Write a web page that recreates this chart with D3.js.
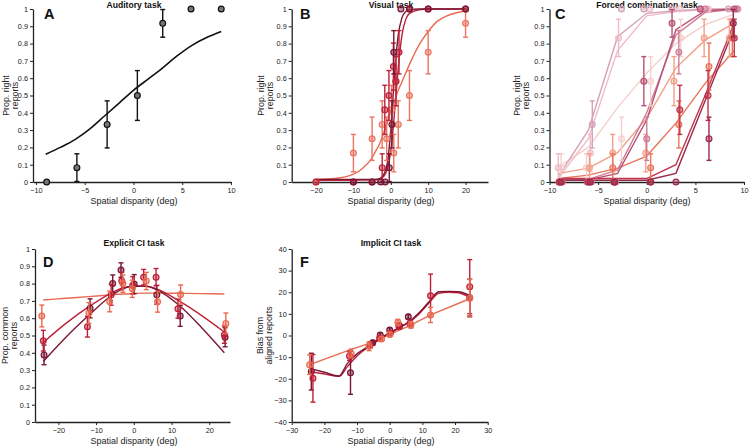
<!DOCTYPE html>
<html><head><meta charset="utf-8">
<script src="https://cdn.jsdelivr.net/npm/d3@7"></script>
<style>body{margin:0;background:#fff}</style>
</head><body><svg id="c" width="749" height="447" style="background:#fff"></svg>
<script>
// ---------- Panel A: Auditory task ----------
const aX = [-8.9, -5.8, -2.7, 0.4, 3.0, 5.9, 9.0];
const aY = [0, 0.083, 0.333, 0.5, 0.917, 1, 1];
const aErr = [0, 0.08, 0.136, 0.144, 0.08, 0, 0];
const aFitX = [-9, -7.5, -6, -4.5, -3, -1.5, 0, 1.5, 3, 4.5, 6, 7.5, 9];
const aFitY = [0.16, 0.2, 0.245, 0.305, 0.38, 0.455, 0.53, 0.595, 0.66, 0.73, 0.79, 0.835, 0.87];

// ---------- Panel B: Visual task ----------
const bFitX = [-20,-15,-10,-7.5,-5,-4,-3,-2,-1,0,1,2,3,4,5,7.5,10,12.5,15,20];
const bFitDark = [0.015,0.015,0.015,0.015,0.015,0.016,0.02,0.04,0.1,0.3,0.62,0.85,0.95,0.985,0.995,1,1,1,1,1];
const bFitCrim = [0.01,0.01,0.01,0.011,0.012,0.013,0.016,0.03,0.07,0.18,0.4,0.66,0.85,0.94,0.975,0.995,1,1,1,1];
const bFitOr = [0.015,0.02,0.045,0.08,0.14,0.18,0.22,0.28,0.34,0.41,0.47,0.53,0.58,0.63,0.68,0.79,0.87,0.93,0.96,0.99];
const bDarkX = [-10,-5,-2.7,-1.5,-0.4,0.3,0.8,2.7,5,10,20];
const bDarkY = [0,0,0,0,0.083,0.333,0.75,1,1,1,1];
const bDarkE = [0,0,0,0,0.08,0.136,0.125,0,0,0,0];
const bCrimX = [-20,-10,-5,-2.3,-1.6,-0.5,0.7,1.4,2.2,5,10,20];
const bCrimY = [0,0,0,0.083,0.417,0.5,0.667,0.583,0.75,1,1,1];
const bCrimE = [0,0,0,0.08,0.142,0.144,0.136,0.142,0.125,0,0,0];
const bOrX = [-20,-10,-5,-2.3,-1.1,0.2,0.8,1.3,2,5,10,20];
const bOrY = [0,0.167,0.25,0.333,0.25,0.417,0.167,0.583,0.333,0.5,0.75,0.917];
const bOrE = [0,0.108,0.125,0.136,0.125,0.142,0.108,0.142,0.136,0.144,0.125,0.08];

// ---------- Panel C: Forced combination task ----------
const cFitX = [-9,-6,-3,0,3,6,9];
const cFitA = [0.04,0.3,0.84,0.975,0.99,1,1];
const cFitB = [0.03,0.25,0.76,0.96,0.985,0.995,1];
const cFitC = [0.09,0.2,0.43,0.63,0.8,0.91,0.97];
const cFitD = [0.05,0.08,0.17,0.37,0.66,0.82,0.92];
const cFitE = [0.02,0.04,0.08,0.15,0.34,0.57,0.76];
const cFitF1 = [0.01,0.012,0.05,0.36,0.88,0.99,1];
const cFitF2 = [0.01,0.015,0.07,0.4,0.85,0.98,1];
const cFitG1 = [0.02,0.02,0.02,0.02,0.1,0.5,0.92];
const cFitG2 = [0.01,0.01,0.01,0.01,0.05,0.47,0.89];
const cXA = [-8.8,-5.6,-2.6,-0.3,2.6,5.5,8.4], cYA = [0,0.333,1,1,1,1,1], cEA = [0,0.136,0,0,0,0,0];
const cXB = [-9.1,-5.8,-2.9,0.3,3.4,6.3,9.2], cYB = [0.083,0.167,0.833,1,1,1,1], cEB = [0.08,0.108,0.108,0,0,0,0];
const cXC = [-8.8,-6.2,-2.6,0.4,3.5,6.3,9.4], cYC = [0.083,0.083,0.25,0.583,0.833,1,1], cEC = [0.08,0.08,0.125,0.142,0.108,0,0];
const cXD = [-9.0,-5.9,-3.5,-0.1,2.8,5.9,8.5], cYD = [0,0.083,0.167,0.167,0.583,0.833,0.833], cED = [0,0.08,0.108,0.108,0.142,0.108,0.108];
const cXE = [-8.7,-6.0,-3.5,0.4,3.3,6.4,8.8], cYE = [0,0,0.083,0.083,0.333,0.667,0.833], cEE = [0,0,0.08,0.08,0.136,0.136,0.108];
const cXF1 = [-9.0,-6.1,-3.4,-0.3,2.6,5.5,9.0], cYF1 = [0,0,0,0.583,0.917,1,1], cEF1 = [0,0,0,0.142,0.08,0,0];
const cXF2 = [-8.9,-5.7,-3.2,0,3.3,6.0,9.3], cYF2 = [0,0,0,0.25,0.75,1,1], cEF2 = [0,0,0,0.125,0.125,0,0];
const cXG1 = [-9.0,-6.0,-3.3,0.4,3.4,6.3,9.0], cYG1 = [0,0,0,0,0.417,0.5,0.833], cEG1 = [0,0,0,0,0.142,0.144,0.108];
const cXG2 = [-8.8,-5.8,-3.3,0.4,3.0,6.4,8.9], cYG2 = [0,0,0,0,0,0.25,0.917], cEG2 = [0,0,0,0,0,0.125,0.08];

// ---------- Panel D: Explicit CI task ----------
const dFitX = [-24,-18,-12,-6,-3,0,3,6,12,18,24];
const dFitDark = [0.35,0.49,0.615,0.73,0.77,0.785,0.787,0.765,0.675,0.545,0.40];
const dFitCrim = [0.46,0.57,0.665,0.745,0.775,0.785,0.785,0.77,0.70,0.615,0.52];
const dFitOr = [0.705,0.715,0.725,0.735,0.74,0.743,0.745,0.745,0.744,0.742,0.74];
const dDarkX = [-23.8,-11.6,-5.6,-3.4,0.1,6.1,12.3,24.2];
const dDarkY = [0.388,0.657,0.8,0.878,0.797,0.735,0.613,0.49];
const dDarkE = [0.057,0.055,0.05,0.042,0.055,0.055,0.06,0.055];
const dCrimX = [-24,-12.3,-6,-3.2,-0.3,2.6,5.9,11.7,24];
const dCrimY = [0.47,0.551,0.735,0.815,0.79,0.837,0.837,0.655,0.505];
const dCrimE = [0.06,0.06,0.06,0.05,0.05,0.045,0.05,0.055,0.05];
const dOrX = [-24.4,-11.9,-6.4,-2.9,-0.4,3.3,6.3,12.4,24.4];
const dOrY = [0.613,0.63,0.697,0.8,0.77,0.815,0.695,0.737,0.57];
const dOrE = [0.063,0.06,0.06,0.05,0.05,0.05,0.06,0.055,0.06];

// ---------- Panel F: Implicit CI task ----------
const fFitX = [-24.5,-20,-15.5,-13,-10,-6,-3,0,3,6,9,12,15,18,21,24.5];
const fFitDark = [-15.2,-17,-18.7,-13,-8.5,-4.6,-1.5,1.3,3.8,6.5,10.5,15.5,20.2,20.4,20.2,18.5];
const fFitCrim = [-16.7,-17.8,-18.9,-14.5,-9.5,-4.8,-1.7,1.0,3.6,6.2,10,15,19.5,20,19.8,17.5];
const fFitOrX = [-24.5,-12,-6,-3,0,3,6,12.5,24.5];
const fFitOr = [-13.5,-6.5,-3.5,-1.5,0.5,2.5,4.5,9.5,17];
const fDarkX = [-24,-12,-5.2,-2.9,0,3,5.7,24.5];
const fDarkY = [-16.7,-17.2,-3.3,0.2,2.5,4.4,8.7,17.5];
const fDarkE = [8.5,10,1,1,1,1,1,8.5];
const fCrimX = [-23.5,-12.3,-6,-3.1,0.2,2.8,6.2,12.5,24.5];
const fCrimY = [-19.8,-9.5,-4.4,-1.3,1,4.4,5.6,18.4,22.6];
const fCrimE = [11,2,1.5,1,1,1.5,1.5,10,12.5];
const fOrX = [-24.5,-11.8,-6.3,-2.5,0,2.5,6.5,12.5,24.5];
const fOrY = [-13.5,-8.3,-5,-1.6,0.5,6,4.9,9.5,17.2];
const fOrE = [4.5,2,2,1,1,1.5,1.5,3.5,8.7];

// ---------- tick labels ----------
const propTicks = [0,0.1,0.2,0.3,0.4,0.5,0.6,0.7,0.8,0.9,1];
const biasTicks = [-40,-30,-20,-10,0,10,20,30,40];
const xTicks10 = [-10,-5,0,5,10];
const xTicks20 = [-20,-10,0,10,20];
const xTicks30 = [-30,-20,-10,0,10,20,30];

// ---------- drawing ----------
const FONT = "'Liberation Sans', Arial, Helvetica, sans-serif";
const svg = d3.select('#c');
const DARK = '#7a1634', CRIM = '#be2038', ORNG = '#e96a50';

function makePanel(o){
  const x = d3.scaleLinear().domain(o.xDomain).range(o.xRange);
  const y = d3.scaleLinear().domain(o.yDomain).range(o.yRange);
  const g = svg.append('g');
  const xa = g.append('g').attr('transform',`translate(0,${o.yRange[0]})`)
    .call(d3.axisBottom(x).tickValues(o.xTicks).tickSize(3).tickSizeOuter(0).tickPadding(3));
  const ya = g.append('g').attr('transform',`translate(${o.xRange[0]},0)`)
    .call(d3.axisLeft(y).tickValues(o.yTicks).tickFormat(d3.format('~g')).tickSize(3).tickSizeOuter(0).tickPadding(2));
  [xa,ya].forEach(a=>{
    a.attr('font-family',FONT).attr('font-size',7.3);
    a.select('.domain').attr('stroke','#222').attr('stroke-width',1.3);
    a.selectAll('.tick line').attr('stroke','#222');
    a.selectAll('.tick text').attr('fill','#222');
  });
  g.append('text').attr('x',o.titleX).attr('y',o.titleY).attr('text-anchor','middle')
    .attr('font-family',FONT).attr('font-size',8.6).attr('font-weight','bold').attr('fill','#111').text(o.title);
  g.append('text').attr('x',o.titleX).attr('y',o.yRange[0]+21.5).attr('text-anchor','middle')
    .attr('font-family',FONT).attr('font-size',9).attr('fill','#222').text('Spatial disparity (deg)');
  const ymid = (o.yRange[0]+o.yRange[1])/2;
  o.yLabel.forEach((t,i)=>{
    g.append('text').attr('transform',`translate(${o.yLabelX[i]},${ymid}) rotate(-90)`)
      .attr('text-anchor','middle').attr('font-family',FONT).attr('font-size',8.8).attr('fill','#222').text(t);
  });
  g.append('text').attr('x',o.letterX).attr('y',o.letterY).attr('font-family',FONT)
    .attr('font-size',14.5).attr('font-weight','bold').attr('fill','#111').text(o.letter);
  return {g,x,y};
}

function drawFit(p, xs, ys, color, curve, w){
  p.g.append('path').datum(xs.map((v,i)=>[v,ys[i]]))
    .attr('fill','none').attr('stroke',color).attr('stroke-width',w||1.4)
    .attr('d', d3.line().x(d=>p.x(d[0])).y(d=>p.y(d[1])).curve(curve||d3.curveMonotoneX));
}
function drawPts(p, xs, ys, es, color, fill, fo){
  const data = xs.map((v,i)=>({x:v,y:ys[i],e:es[i]}));
  const eg = p.g.append('g').attr('stroke',color).attr('stroke-width',1.4).attr('fill','none');
  data.filter(d=>d.e>0).forEach(d=>{
    const X = p.x(d.x), y1 = p.y(d.y-d.e), y2 = p.y(d.y+d.e);
    eg.append('line').attr('x1',X).attr('x2',X).attr('y1',y1).attr('y2',y2);
    eg.append('line').attr('x1',X-2.5).attr('x2',X+2.5).attr('y1',y1).attr('y2',y1);
    eg.append('line').attr('x1',X-2.5).attr('x2',X+2.5).attr('y1',y2).attr('y2',y2);
  });
  p.g.append('g').selectAll('circle').data(data).join('circle')
    .attr('cx',d=>p.x(d.x)).attr('cy',d=>p.y(d.y)).attr('r',2.9)
    .attr('fill',fill||color).attr('fill-opacity',fo==null?0.45:fo)
    .attr('stroke',color).attr('stroke-width',1.2);
}

// Panel A
const pA = makePanel({xDomain:[-10.3,10],xRange:[33,231],yDomain:[0,1],yRange:[182,9],xTicks:xTicks10,yTicks:propTicks,
  title:'Auditory task',titleX:134,titleY:7.5,yLabel:['Prop. right','reports'],yLabelX:[8.5,17.5],letter:'A',letterX:44,letterY:19});
drawFit(pA,aFitX,aFitY,'#111',d3.curveMonotoneX,1.6);
drawPts(pA,aX,aY,aErr,'#111','#777',1);

// Panel B
const pB = makePanel({xDomain:[-26.5,26],xRange:[291.7,488],yDomain:[0,1],yRange:[182,9],xTicks:xTicks20,yTicks:propTicks,
  title:'Visual task',titleX:391,titleY:7.5,yLabel:['Prop. right','reports'],yLabelX:[264,273],letter:'B',letterX:300,letterY:19});
drawFit(pB,bFitX,bFitOr,ORNG);
drawFit(pB,bFitX,bFitCrim,CRIM);
drawFit(pB,bFitX,bFitDark,DARK);
drawPts(pB,bOrX,bOrY,bOrE,'#ea7560');
drawPts(pB,bCrimX,bCrimY,bCrimE,CRIM);
drawPts(pB,bDarkX,bDarkY,bDarkE,DARK);

// Panel C
const pC = makePanel({xDomain:[-10,10],xRange:[549.5,744],yDomain:[0,1],yRange:[182,9],xTicks:xTicks10,yTicks:propTicks,
  title:'Forced combination task',titleX:647,titleY:7.5,yLabel:['Prop. right','reports'],yLabelX:[520,529],letter:'C',letterX:555,letterY:19});
const cCols = {a:'#d6a2b8',b:'#efbcc6',c:'#f5cfcb',d:'#f2a088',e:'#e9755a',f1:'#b85275',f2:'#cf7d96',g1:'#c2334c',g2:'#9a2a4c'};
drawFit(pC,cFitX,cFitC,cCols.c,d3.curveLinear);
drawFit(pC,cFitX,cFitB,cCols.b,d3.curveLinear);
drawFit(pC,cFitX,cFitA,cCols.a,d3.curveLinear);
drawFit(pC,cFitX,cFitD,cCols.d,d3.curveLinear);
drawFit(pC,cFitX,cFitE,cCols.e,d3.curveLinear);
drawFit(pC,cFitX,cFitF2,cCols.f2,d3.curveLinear);
drawFit(pC,cFitX,cFitF1,cCols.f1,d3.curveLinear);
drawFit(pC,cFitX,cFitG1,cCols.g1,d3.curveLinear);
drawFit(pC,cFitX,cFitG2,cCols.g2,d3.curveLinear);
drawPts(pC,cXC,cYC,cEC,cCols.c);
drawPts(pC,cXB,cYB,cEB,cCols.b);
drawPts(pC,cXA,cYA,cEA,cCols.a);
drawPts(pC,cXD,cYD,cED,cCols.d);
drawPts(pC,cXE,cYE,cEE,cCols.e);
drawPts(pC,cXF2,cYF2,cEF2,cCols.f2);
drawPts(pC,cXF1,cYF1,cEF1,cCols.f1);
drawPts(pC,cXG1,cYG1,cEG1,cCols.g1);
drawPts(pC,cXG2,cYG2,cEG2,cCols.g2);

// Panel D
const pD = makePanel({xDomain:[-26.2,25.5],xRange:[35,230],yDomain:[0,1],yRange:[422,249],xTicks:xTicks20,yTicks:propTicks,
  title:'Explicit CI task',titleX:134,titleY:246,yLabel:['Prop. common','reports'],yLabelX:[7.5,16.5],letter:'D',letterX:43,letterY:267});
drawFit(pD,dFitX,dFitOr,ORNG);
drawFit(pD,dFitX,dFitCrim,CRIM);
drawFit(pD,dFitX,dFitDark,DARK);
drawPts(pD,dDarkX,dDarkY,dDarkE,DARK);
drawPts(pD,dCrimX,dCrimY,dCrimE,CRIM);
drawPts(pD,dOrX,dOrY,dOrE,ORNG);

// Panel F
const pF = makePanel({xDomain:[-30,30],xRange:[291.7,487.7],yDomain:[-40,40],yRange:[422,249],xTicks:xTicks30,yTicks:biasTicks,
  title:'Implicit CI task',titleX:391,titleY:246,yLabel:['Bias from','aligned reports'],yLabelX:[262.5,271.5],letter:'F',letterX:300,letterY:267});
drawFit(pF,fFitOrX,fFitOr,ORNG,d3.curveLinear);
drawFit(pF,fFitX,fFitCrim,CRIM);
drawFit(pF,fFitX,fFitDark,DARK);
drawPts(pF,fDarkX,fDarkY,fDarkE,DARK);
drawPts(pF,fCrimX,fCrimY,fCrimE,CRIM);
drawPts(pF,fOrX,fOrY,fOrE,ORNG);
</script></body></html>
